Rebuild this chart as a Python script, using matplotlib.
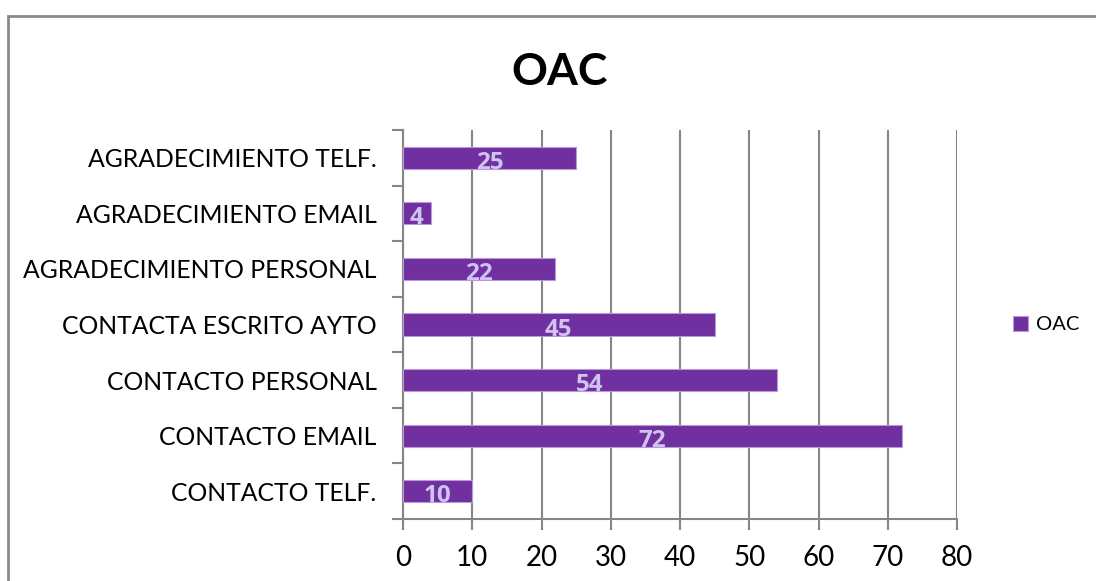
import matplotlib.pyplot as plt
from matplotlib.patches import Rectangle

categories = [
    "CONTACTO TELF.",
    "CONTACTO EMAIL",
    "CONTACTO PERSONAL",
    "CONTACTA ESCRITO AYTO",
    "AGRADECIMIENTO PERSONAL",
    "AGRADECIMIENTO EMAIL",
    "AGRADECIMIENTO TELF.",
]
values = [10, 72, 54, 45, 22, 4, 25]
series_name = "OAC"
x_ticks = [0, 10, 20, 30, 40, 50, 60, 70, 80]

plt.rcParams["font.family"] = ["Lato", "DejaVu Sans"]

fig = plt.figure(figsize=(10.96, 5.81), dpi=100)
ax = fig.add_axes([0.3677, 0.1067, 0.5055, 0.6695])

bars = ax.barh(range(len(categories)), values, height=0.4, color="#7030A0",
               edgecolor="#B89AD8", linewidth=0.8, label=series_name, zorder=3)

for bar, v in zip(bars, values):
    ax.text(bar.get_x() + bar.get_width() / 2, bar.get_y() + bar.get_height() / 2 - 0.09,
            str(v), ha="center", va="center", color="#CFC3F2",
            family=["Open Sans", "DejaVu Sans"],
            fontsize=17.5, fontweight="bold", zorder=4)

ax.set_xlim(0, 80)
ax.set_ylim(-0.5, len(categories) - 0.5)
ax.set_xticks(x_ticks)
ax.set_xticklabels([str(t) for t in x_ticks], fontsize=20)
ax.set_yticks(range(len(categories)))
ax.set_yticklabels(categories, fontsize=17.8)

# ticks between categories on the y axis, labels centred on bars
ax.set_yticks([i - 0.5 for i in range(len(categories) + 1)], minor=True)
ax.tick_params(axis="y", which="major", length=0, pad=19)
ax.tick_params(axis="y", which="minor", length=8, width=1.5, color="#868686")
ax.tick_params(axis="x", length=8, width=1.5, color="#868686", pad=11)

ax.grid(axis="x", color="#868686", linewidth=1.5, zorder=0)
for side in ["top", "right"]:
    ax.spines[side].set_visible(False)
for side in ["left", "bottom"]:
    ax.spines[side].set_color("#868686")
    ax.spines[side].set_linewidth(1.5)

fig.text(0.511, 0.876, "OAC", ha="center", va="center",
         fontsize=32, fontweight="bold")

ax.legend(loc="center left", bbox_to_anchor=(1.083, 0.5), frameon=False,
          fontsize=14.5, handlelength=0.75, handleheight=0.75, handletextpad=0.4,
          borderpad=0)

# chart area border
fig.patches.append(Rectangle((8 / 1096, -0.2), 1.2, 1.2 - 16 / 581,
                             transform=fig.transFigure, fill=False,
                             edgecolor="#888888", linewidth=2))

fig.savefig("out.png", dpi=100)
plt.close(fig)
